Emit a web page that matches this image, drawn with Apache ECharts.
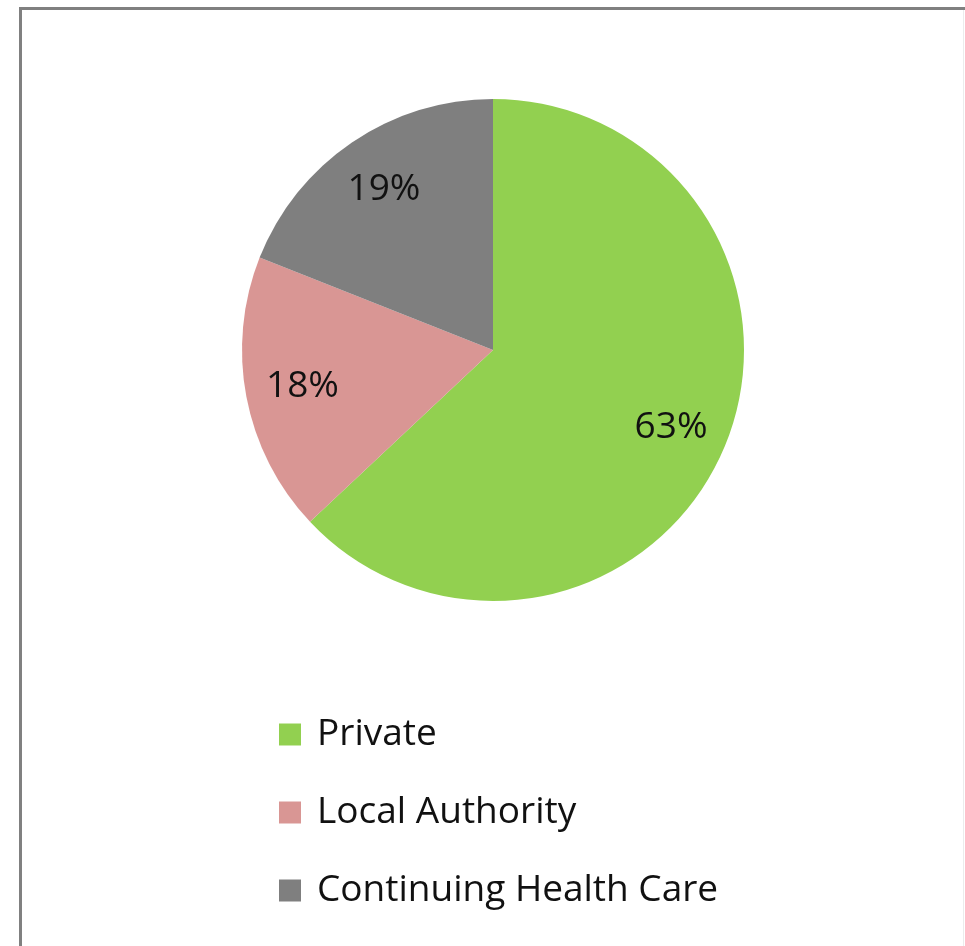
<!DOCTYPE html>
<html>
<head>
<meta charset="utf-8">
<title>Funding source</title>
<script src="https://cdn.jsdelivr.net/npm/echarts@6/dist/echarts.min.js"></script>
<style>
  html, body { margin: 0; padding: 0; background: #ffffff; }
  #chart { width: 965px; height: 946px; }
</style>
</head>
<body>
<div id="chart"></div>
<script>
// Funding categories and their shares (%)
const categories = ['Private', 'Local Authority', 'Continuing Health Care'];
const shares = [63, 18, 19];
const colors = ['#92D050', '#D99694', '#7F7F7F'];

const pieData = categories.map((name, i) => ({
  name: name,
  value: shares[i],
  itemStyle: { color: colors[i] }
}));

const FONT = '"Open Sans", "Liberation Sans", sans-serif';
const chart = echarts.init(document.getElementById('chart'), null, { renderer: 'canvas' });

chart.setOption({
  backgroundColor: '#ffffff',
  animation: false,
  legend: {
    orient: 'vertical',
    left: 274,
    top: 711,
    height: 230,
    itemWidth: 22,
    itemHeight: 22,
    itemGap: 41,
    icon: 'rect',
    selectedMode: false,
    data: categories,
    textStyle: {
      fontFamily: FONT,
      fontSize: 37,
      color: '#111111',
      padding: [0, 0, 0, 11]
    }
  },
  series: [
    {
      // the slices
      type: 'pie',
      center: [493, 350],
      radius: [0, 251],
      startAngle: 90,
      clockwise: true,
      silent: true,
      label: { show: false },
      labelLine: { show: false },
      itemStyle: { borderWidth: 0 },
      data: pieData
    },
    {
      // percentage labels placed in the outer band of each slice
      type: 'pie',
      center: [493, 350],
      radius: [131, 251],
      startAngle: 90,
      clockwise: true,
      silent: true,
      itemStyle: { color: 'rgba(0,0,0,0)', borderWidth: 0 },
      label: {
        show: true,
        position: 'inside',
        formatter: p => p.value + '%',
        fontFamily: FONT,
        fontSize: 37,
        color: '#111111'
      },
      labelLine: { show: false },
      data: categories.map((name, i) => ({ name: name, value: shares[i] }))
    }
  ],
  graphic: [
    { type: 'line', shape: { x1: 20.5, y1: 7, x2: 20.5, y2: 946 }, style: { stroke: '#808080', lineWidth: 3 } },
    { type: 'line', shape: { x1: 19, y1: 8.5, x2: 965, y2: 8.5 }, style: { stroke: '#808080', lineWidth: 3 } },
    { type: 'line', shape: { x1: 963.5, y1: 10, x2: 963.5, y2: 946 }, style: { stroke: '#ececec', lineWidth: 1 } }
  ]
});
</script>
</body>
</html>
